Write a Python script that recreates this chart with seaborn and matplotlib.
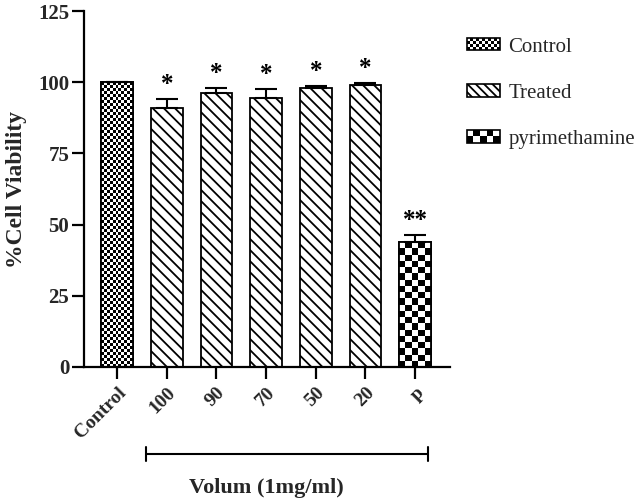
import numpy as np
import pandas as pd
import matplotlib
matplotlib.use("Agg")
import matplotlib.pyplot as plt
import seaborn as sns
from matplotlib.patches import Rectangle
from matplotlib.legend_handler import HandlerBase
import matplotlib.transforms as mtransforms

# ---- data ----
categories = ["Control", "100", "90", "70", "50", "20", "p"]
groups = ["Control", "Treated", "Treated", "Treated", "Treated", "Treated", "pyrimethamine"]
viability = [100.0, 91.0, 96.3, 94.3, 97.9, 98.9, 43.9]
sem = [0.0, 3.0, 1.8, 3.3, 0.7, 0.8, 2.4]
stars = ["", "*", "*", "*", "*", "*", "**"]
legend_labels = ["Control", "Treated", "pyrimethamine"]
y_ticks = [0, 25, 50, 75, 100, 125]
xlabel = "Volum (1mg/ml)"
ylabel = "%Cell Viability"

sns.set_theme(style="ticks")
plt.rcParams["font.family"] = ["Liberation Serif", "DejaVu Serif"]
plt.rcParams["hatch.linewidth"] = 1.3
plt.rcParams["hatch.color"] = "black"

df = pd.DataFrame({"cat": categories, "grp": groups, "v": viability})

fig = plt.figure(figsize=(6.4, 5.04), dpi=100)
ax = fig.add_axes([0.131, 0.272, 0.572, 0.706])

sns.barplot(data=df, x="cat", y="v", hue="grp", dodge=False, legend=False,
            palette=["white", "white", "white"], edgecolor="black",
            linewidth=1.3, width=0.64, ax=ax, err_kws={"linewidth": 0})

ax.set_xlim(-0.67, 6.7)
ax.set_ylim(0, 125)


def checker(nx, ny):
    return (np.add.outer(np.arange(ny), np.arange(nx)) % 2).astype(float)


for patch, grp in zip(ax.patches, groups):
    x0, y0 = patch.get_x(), patch.get_y()
    w, h = patch.get_width(), patch.get_height()
    if grp == "Treated":
        patch.set_hatch("\\\\\\")
    else:
        cell_px = 3.0 if grp == "Control" else 6.3
        px_w = 32.0
        nx = max(1, int(round(px_w / cell_px)))
        px_h = h * 356 / 125
        ny = max(1, int(round(px_h / cell_px)))
        im = ax.imshow(checker(nx, ny), cmap="gray", vmin=0, vmax=1,
                       extent=[x0, x0 + w, y0, y0 + h], origin="lower",
                       interpolation="nearest", aspect="auto", zorder=patch.get_zorder() + 0.1)
        im.set_clip_path(patch)
        border = Rectangle((x0, y0), w, h, fill=False, edgecolor="black",
                           linewidth=1.3, zorder=patch.get_zorder() + 0.2)
        ax.add_patch(border)

ax.set_xlim(-0.67, 6.7)
ax.set_ylim(0, 125)

xs = np.arange(len(categories))
ax.errorbar(xs, viability, yerr=[np.zeros(len(sem)), sem], fmt="none",
            ecolor="black", elinewidth=1.5, capsize=8, capthick=1.5, zorder=5)

for x, v, e, s in zip(xs, viability, sem, stars):
    if s:
        ax.text(x, v + e + 1.0, s, ha="center", va="bottom", fontsize=18,
                fontweight="bold", color="black")

# axes styling
sns.despine(ax=ax)
for side in ["left", "bottom"]:
    ax.spines[side].set_linewidth(1.6)
    ax.spines[side].set_color("black")
ax.set_yticks(y_ticks)
ax.set_yticklabels([str(t) for t in y_ticks], fontsize=15, fontweight="bold")
ax.tick_params(axis="both", direction="out", length=8.5, width=1.6, color="black", pad=2)
ax.set_xticks(xs)
ax.set_xticklabels(categories, fontsize=14, fontweight="bold", rotation=45,
                   ha="right", rotation_mode="anchor")
ax.tick_params(axis="x", pad=4)
ax.set_xlabel("")
ax.set_ylabel(ylabel, fontsize=17, fontweight="bold")
ax.yaxis.set_label_coords(-0.156, 0.5)

# bracket under treated groups
trans = mtransforms.blended_transform_factory(ax.transData, ax.transAxes)
bx0, bx1, by = 0.59, 6.25, -0.244
ax.plot([bx0, bx1], [by, by], color="black", lw=1.5, transform=trans, clip_on=False)
ax.plot([bx0, bx0], [by - 0.02, by + 0.02], color="black", lw=1.5, transform=trans, clip_on=False)
ax.plot([bx1, bx1], [by - 0.02, by + 0.02], color="black", lw=1.5, transform=trans, clip_on=False)
ax.text(3.0, -0.34, xlabel, transform=trans, ha="center", va="center",
        fontsize=16, fontweight="bold")


# legend with checker patterns
class CheckerHandler(HandlerBase):
    def __init__(self, nx, ny):
        super().__init__()
        self.nx, self.ny = nx, ny

    def create_artists(self, legend, orig_handle, xdescent, ydescent, width,
                       height, fontsize, trans):
        x0, y0 = -xdescent, -ydescent
        cw, ch = width / self.nx, height / self.ny
        arts = []
        for i in range(self.nx):
            for j in range(self.ny):
                if (i + j) % 2 == 0:
                    arts.append(Rectangle((x0 + i * cw, y0 + j * ch), cw, ch,
                                          facecolor="black", edgecolor="none",
                                          transform=trans))
        arts.append(Rectangle((x0, y0), width, height, fill=False,
                              edgecolor="black", linewidth=1.2, transform=trans))
        return arts


h_ctrl = Rectangle((0, 0), 1, 1, facecolor="white", edgecolor="black")
h_trt = Rectangle((0, 0), 1, 1, facecolor="white", edgecolor="black",
                  hatch="\\\\\\\\", linewidth=1.2)
h_pyr = Rectangle((0, 0), 1, 1, facecolor="white", edgecolor="black")

fig.legend([h_ctrl, h_trt, h_pyr], legend_labels,
           handler_map={h_ctrl: CheckerHandler(11, 4), h_pyr: CheckerHandler(5, 2)},
           loc="upper left", bbox_to_anchor=(0.716, 0.942), frameon=False,
           prop={"size": 15}, handlelength=1.6, handleheight=0.55,
           handletextpad=0.4, labelspacing=1.3, borderaxespad=0)

fig.savefig("out.png", dpi=100)
